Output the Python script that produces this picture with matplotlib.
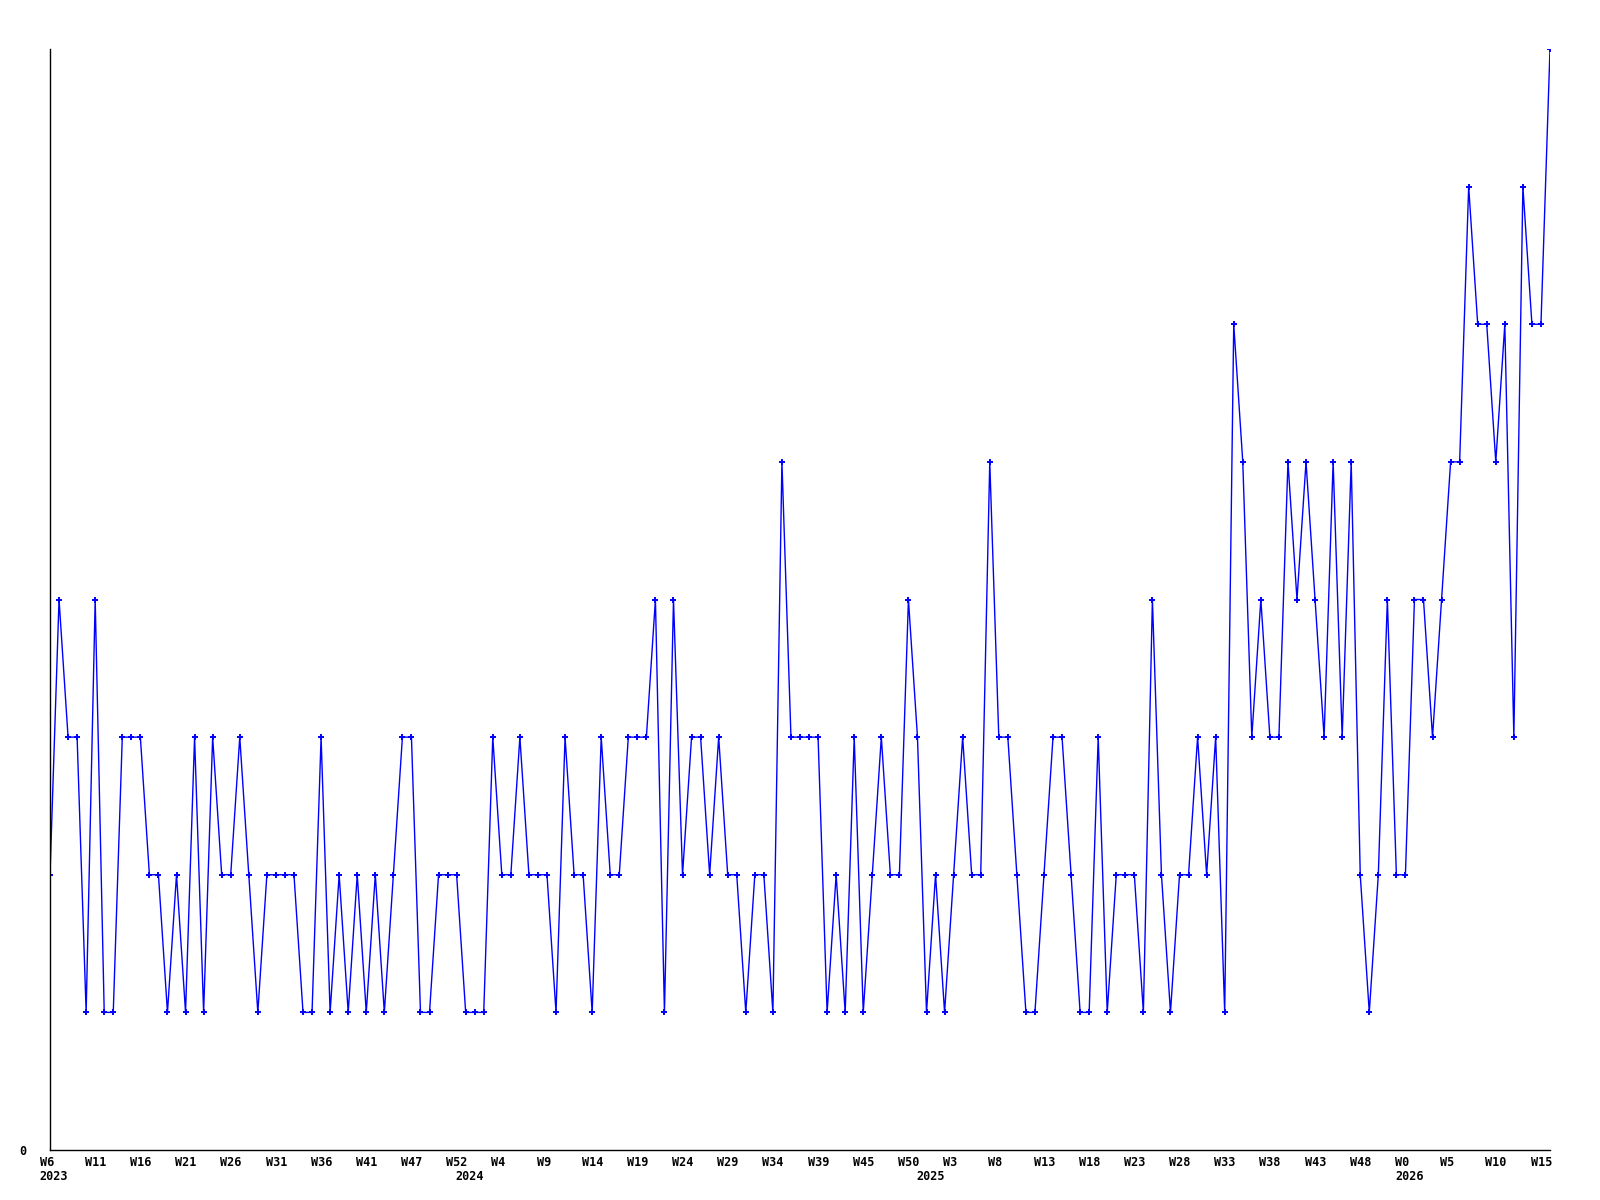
import numpy as np
import matplotlib
matplotlib.use('Agg')
import matplotlib.pyplot as plt
import matplotlib.transforms as mtransforms

# ============================================================
# data: one value per week, W6 2023 .. W16 2026
# ============================================================

values = [
    2, 4, 3, 3, 1, 4, 1, 1, 3, 3,
    3, 2, 2, 1, 2, 1, 3, 1, 3, 2,
    2, 3, 2, 1, 2, 2, 2, 2, 1, 1,
    3, 1, 2, 1, 2, 1, 2, 1, 2, 3,
    3, 1, 1, 2, 2, 2, 1, 1, 1, 3,
    2, 2, 3, 2, 2, 2, 1, 3, 2, 2,
    1, 3, 2, 2, 3, 3, 3, 4, 1, 4,
    2, 3, 3, 2, 3, 2, 2, 1, 2, 2,
    1, 5, 3, 3, 3, 3, 1, 2, 1, 3,
    1, 2, 3, 2, 2, 4, 3, 1, 2, 1,
    2, 3, 2, 2, 5, 3, 3, 2, 1, 1,
    2, 3, 3, 2, 1, 1, 3, 1, 2, 2,
    2, 1, 4, 2, 1, 2, 2, 3, 2, 3,
    1, 6, 5, 3, 4, 3, 3, 5, 4, 5,
    4, 3, 5, 3, 5, 2, 1, 2, 4, 2,
    2, 4, 4, 3, 4, 5, 5, 7, 6, 6,
    5, 6, 3, 7, 6, 6, 8,
]

week_labels = ['W6', 'W11', 'W16', 'W21', 'W26', 'W31', 'W36', 'W41', 'W47', 'W52',
               'W4', 'W9', 'W14', 'W19', 'W24', 'W29', 'W34', 'W39', 'W45', 'W50',
               'W3', 'W8', 'W13', 'W18', 'W23', 'W28', 'W33', 'W38', 'W43', 'W48',
               'W0', 'W5', 'W10', 'W15']
week_label_step = 5

year_labels = ['2023', '2024', '2025', '2026']
year_start_idx = [0, 46, 97, 150]

# ============================================================
# plot
# ============================================================

FONT = dict(family='DejaVu Sans Mono', fontweight='bold', fontsize=8.5)

fig = plt.figure(figsize=(16, 12), dpi=100)
ax = fig.add_axes([50 / 1600, 50 / 1200, 1500 / 1600, 1101 / 1200])

x = np.arange(len(values))
ax.plot(x, values, color='#0000ff', linewidth=1.0,
        marker='+', markersize=4, markeredgewidth=1.4)

ax.set_xlim(0, len(values) - 1)
ax.set_ylim(0, 8)

for side in ('top', 'right'):
    ax.spines[side].set_visible(False)
for side in ('left', 'bottom'):
    ax.spines[side].set_color('black')
    ax.spines[side].set_linewidth(1.0)

# y axis: only the zero label
ax.set_yticks([0])
ax.set_yticklabels(['0'], **FONT)
ax.tick_params(axis='y', length=0, pad=17)

# x axis: week labels, left-aligned a little before their week
tick_pos = x[::week_label_step]
ax.set_xticks(tick_pos)
ax.set_xticklabels(week_labels, ha='left', **FONT)
ax.tick_params(axis='x', length=0, pad=4)
shift = mtransforms.ScaledTranslation(-10.4 / 100, 0, fig.dpi_scale_trans)
for lbl in ax.get_xticklabels():
    lbl.set_transform(lbl.get_transform() + shift)

# year labels under the first week of each year
trans = mtransforms.blended_transform_factory(ax.transData, ax.transAxes)
for yl, idx in zip(year_labels, year_start_idx):
    t = ax.text(idx, 0, yl, ha='left', va='top', transform=trans, **FONT)
    t.set_transform(trans + mtransforms.ScaledTranslation(-10.4 / 100, -20 / 100, fig.dpi_scale_trans))

plt.savefig('out.png', dpi=100)
